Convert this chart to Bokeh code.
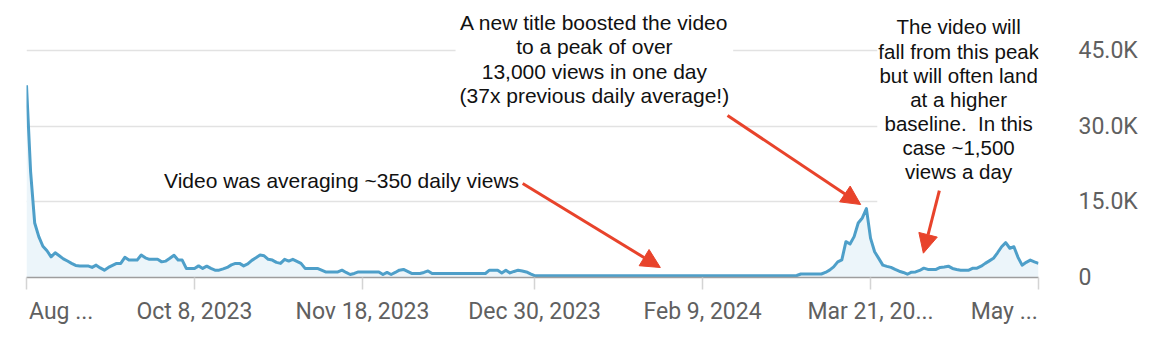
import pandas as pd
from bokeh.plotting import figure
from bokeh.models import Range1d, FixedTicker, Label, Arrow, NormalHead, ColumnDataSource, CustomJSTickFormatter
from bokeh.embed import file_html
from bokeh.resources import INLINE

# ---------------- data ----------------
start_date = "2023-08-28"
views = [
    38100, 21000, 10800, 8100, 6200, 5300, 4100, 4900, 4300, 3700,
    3260, 2800, 2400, 2300, 2300, 2300, 2000, 2450, 1900, 1460,
    2000, 2400, 2800, 2800, 4000, 3450, 3450, 3450, 4450, 3900,
    3600, 3600, 3600, 3100, 3250, 3800, 4400, 3450, 3450, 1800,
    1800, 1800, 2300, 1800, 2250, 1800, 1450, 1450, 1700, 2000,
    2500, 2800, 2800, 2300, 2700, 3400, 3900, 4450, 4300, 3600,
    3450, 3000, 2800, 3600, 3250, 3600, 3200, 2800, 1800, 1800,
    1800, 1800, 1450, 1100, 1100, 1100, 1100, 1450, 1000, 600,
    800, 1100, 1100, 1100, 1100, 1100, 1100, 600, 1000, 600,
    1000, 1450, 1600, 1200, 800, 800, 800, 1000, 1300, 800,
    800, 800, 800, 800, 800, 800, 800, 800, 800, 800,
    800, 800, 800, 1450, 1450, 1450, 900, 1450, 900, 1200,
    1450, 1300, 1100, 700, 350, 350, 350, 350, 350, 350,
    350, 350, 350, 350, 350, 350, 350, 350, 350, 350,
    350, 350, 350, 350, 350, 350, 350, 350, 350, 350,
    350, 350, 350, 350, 350, 350, 350, 350, 350, 350,
    350, 350, 350, 350, 350, 350, 350, 350, 350, 350,
    350, 350, 350, 350, 350, 350, 350, 350, 350, 350,
    350, 350, 350, 350, 350, 350, 350, 350, 400, 700,
    700, 700, 700, 700, 700, 1000, 1450, 2100, 3100, 3500,
    7100, 6650, 8100, 10800, 11800, 13650, 7800, 5100, 3800, 2450,
    2200, 2000, 1600, 1250, 1000, 650, 1050, 1100, 1400, 1850,
    1600, 1600, 1600, 2000, 2100, 2250, 1800, 1600, 1450, 1450,
    1450, 1850, 1850, 2250, 2800, 3300, 3800, 4900, 6100, 6900,
    5800, 6100, 4000, 2450, 3000, 3450, 3100, 2800,
]
tick_dates = ["2023-08-28", "2023-10-08", "2023-11-18", "2023-12-30",
              "2024-02-09", "2024-03-21", "2024-05-01"]
tick_labels = ["Aug ...", "Oct 8, 2023", "Nov 18, 2023", "Dec 30, 2023",
               "Feb 9, 2024", "Mar 21, 20...", "May ..."]
y_ticks = [0, 15000, 30000, 45000]
y_tick_labels = ["0", "15.0K", "30.0K", "45.0K"]

# ---------------- helpers ----------------
dates = pd.date_range(start_date, periods=len(views), freq="D")
DAY = 86400000.0


def ms(ts):
    return pd.Timestamp(ts).value / 1e6


def at_day(d):
    return ms(start_date) + d * DAY


LINE = "#4e9fc9"
FILL = "#ecf5fa"
RED = "#e8432b"
GREY_TXT = "#606060"
ANN_FONT = "Liberation Sans"
NB = "\u00a0"

# frame spans from canvas top so annotation boxes above the 45K line are not clipped;
# the y range top is chosen so that 45K sits 227px above zero (50px below canvas top)
Y_TOP = 45000 * 277 / 227

p = figure(width=1166, height=356, x_axis_type="datetime", y_axis_location="right",
           output_backend="svg", toolbar_location=None,
           min_border_left=26, min_border_right=128, min_border_top=0, min_border_bottom=79,
           x_range=Range1d(ms(dates[0]), ms(dates[-1])), y_range=Range1d(0, Y_TOP))
p.outline_line_color = None
p.background_fill_color = "white"
p.border_fill_color = "white"

# grid
p.xgrid.grid_line_color = None
p.ygrid.ticker = FixedTicker(ticks=y_ticks)
p.ygrid.grid_line_color = "#e2e2e2"
p.ygrid.grid_line_width = 1.5

# y axis (right)
p.yaxis.ticker = FixedTicker(ticks=y_ticks)
p.yaxis.major_label_overrides = {t: l for t, l in zip(y_ticks, y_tick_labels)}
p.yaxis.axis_line_color = None
p.yaxis.major_tick_line_color = None
p.yaxis.minor_tick_line_color = None
p.yaxis.major_label_standoff = 34
p.yaxis.major_label_text_font = "Roboto"
p.yaxis.major_label_text_font_size = "23px"
p.yaxis.major_label_text_color = GREY_TXT

# x axis (bottom); end labels are padded so they sit inside the plot edges
shown = list(tick_labels)
shown[0] = NB * 5 + shown[0]
shown[-1] = shown[-1] + NB * 12
p.xaxis.ticker = FixedTicker(ticks=[ms(d) for d in tick_dates])
p.xaxis.formatter = CustomJSTickFormatter(args=dict(labels=shown), code="return labels[index]")
p.xaxis.axis_line_color = "#9e9e9e"
p.xaxis.axis_line_width = 1.5
p.xaxis.major_tick_line_color = "#d4d4d4"
p.xaxis.major_tick_line_width = 1.5
p.xaxis.major_tick_out = 12
p.xaxis.major_tick_in = 0
p.xaxis.minor_tick_line_color = None
p.xaxis.major_label_standoff = 8
p.xaxis.major_label_text_font = "Roboto"
p.xaxis.major_label_text_font_size = "23px"
p.xaxis.major_label_text_color = GREY_TXT

# series
src = ColumnDataSource(dict(date=dates, views=views, zero=[0] * len(views)))
p.varea(x="date", y1="zero", y2="views", source=src, fill_color=FILL)
p.line(x="date", y="views", source=src, line_color=LINE, line_width=3, line_join="round")

# annotations
p.add_layout(Label(x=at_day(76.9), y=19200, text="Video was averaging ~350 daily views",
                   text_align="center", text_baseline="middle", text_font=ANN_FONT,
                   text_font_size="21px", text_color="#111111"))
p.add_layout(Label(x=at_day(138.6), y=43300,
                   text="A new title boosted the video\nto a peak of over\n13,000 views in one day\n(37x previous daily average!)",
                   text_align="center", text_baseline="middle", text_font=ANN_FONT,
                   text_font_size="21px", text_color="#111111", text_line_height=1.05,
                   background_fill_color="white", padding=4))
p.add_layout(Label(x=at_day(227.5), y=35300,
                   text="The video will\nfall from this peak\nbut will often land\nat a higher\nbaseline." + NB + " In this\ncase ~1,500\nviews a day",
                   text_align="center", text_baseline="middle", text_font=ANN_FONT,
                   text_font_size="20.5px", text_color="#111111", text_line_height=1.05,
                   background_fill_color="white",
                   padding=dict(left=1, right=1, top=24, bottom=24)))

for (d0, v0, d1, v1) in [(121.1, 18630, 154.7, 1980),
                         (171.1, 32110, 203.6, 14470),
                         (222.8, 17240, 218.9, 4820)]:
    p.add_layout(Arrow(x_start=at_day(d0), y_start=v0, x_end=at_day(d1), y_end=v1,
                       line_color=RED, line_width=3,
                       end=NormalHead(size=19, fill_color=RED, line_color=RED)))

open("out.html", "w").write(file_html(p, INLINE))
